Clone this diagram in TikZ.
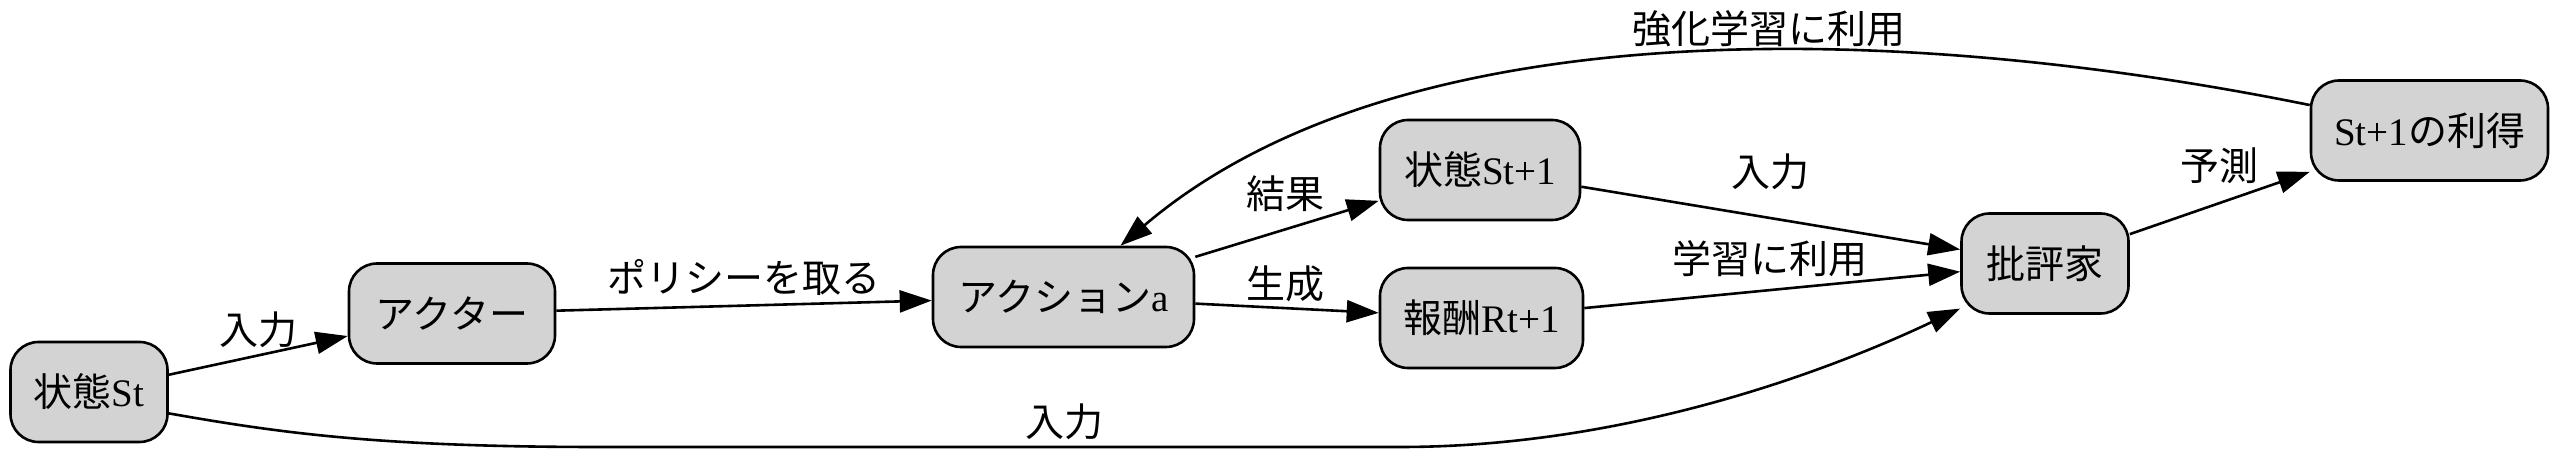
\documentclass[tikz,border=0pt]{standalone}
\usepackage{fontspec}
\setmainfont{Liberation Serif}
\newfontfamily\jp{Noto Sans CJK JP}
\usetikzlibrary{arrows.meta}
\definecolor{boxgray}{HTML}{D3D3D3}

\begin{document}
\begin{tikzpicture}[x=0.5pt,y=-0.5pt, line width=1.3pt,
    >={Triangle[length=16pt,width=11pt]},
    box/.style={draw, fill=boxgray, rounded corners=14pt, minimum height=50pt,
        inner sep=0pt, font=\fontsize{19.5}{22}\selectfont},
    lbl/.style={inner sep=0pt, font=\jp\fontsize{19.5}{22}\selectfont}]
\useasboundingbox (0,0) rectangle (2561,458);

\node[box, minimum width=78.5pt] (st) at (89,392) {{\jp 状態}St};
\node[box, minimum width=103pt] (actor) at (452,313.5) {{\jp アクター}};
\node[box, minimum width=130.5pt] (action) at (1063.5,297) {{\jp アクション}a};
\node[box, minimum width=100pt] (st1) at (1480,170) {{\jp 状態}St+1};
\node[box, minimum width=101.5pt] (reward) at (1481.5,318) {{\jp 報酬}Rt+1};
\node[box, minimum width=83.5pt] (critic) at (2045,263.5) {{\jp 批評家}};
\node[box, minimum width=118.5pt] (ret) at (2429.5,130.5) {St+1{\jp の利得}};

\draw[->] (st) -- (actor) node[lbl, midway, yshift=13pt] {入力};
\draw[->] (actor) -- (action) node[lbl, midway, yshift=14pt] {ポリシーを取る};
\draw[->] (action) -- (st1) node[lbl, midway, xshift=-1pt, yshift=17.5pt] {結果};
\draw[->] (action) -- (reward) node[lbl, midway, xshift=-1pt, yshift=12.25pt] {生成};
\draw[->] (st1) -- (critic) node[lbl, midway, yshift=23pt] {入力};
\draw[->] (reward) -- (critic) node[lbl, midway, xshift=-1pt, yshift=15.5pt] {学習に利用};
\draw[->] (critic) -- (ret) node[lbl, midway, yshift=18.5pt] {予測};
\draw[->] (ret.168) .. controls (1900,22) and (1400,8) .. (action.42)
    node[lbl, pos=0.42, yshift=11pt] {強化学習に利用};
\draw[->] (st.-15) .. controls (280,433) and (380,447) .. (600,447) -- (1400,447)
    node[lbl, pos=0.58, yshift=12.5pt] {入力}
    .. controls (1650,447) and (1862,355) .. (critic.208);
\end{tikzpicture}
\end{document}
